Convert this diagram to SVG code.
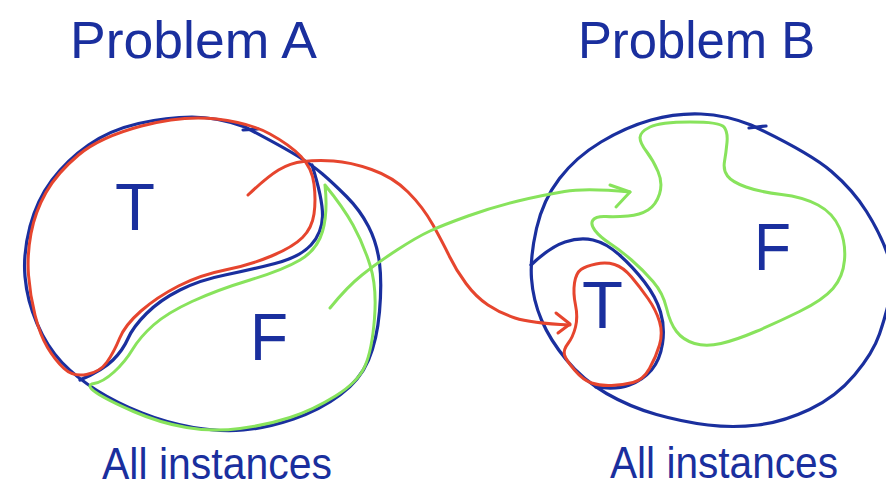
<svg xmlns="http://www.w3.org/2000/svg" width="886" height="492" viewBox="0 0 886 492">
<style>
.b{fill:none;stroke:#1a2f9e;stroke-width:3.2;stroke-linecap:round;stroke-linejoin:round}
.r{fill:none;stroke:#e6452e;stroke-width:3;stroke-linecap:round;stroke-linejoin:round}
.g{fill:none;stroke:#88e35c;stroke-width:3;stroke-linecap:round;stroke-linejoin:round}
.t{font-family:"Liberation Sans","DejaVu Sans",sans-serif;fill:#1a2f9e}
</style>
<rect width="886" height="492" fill="#ffffff"/>
<g id="problemA">
<text class="t" x="70" y="58" font-size="52" textLength="247" lengthAdjust="spacingAndGlyphs">Problem A</text>
<path class="b" d="M245,127 Q283,147 297.5,156 Q312,165 322.5,174 Q333,183 346.5,196.5 Q360,210 368.5,226.5 Q377,243 379.5,263 Q382,283 379.5,311.5 Q377,340 368.5,360 Q360,380 340,395 Q320,410 293.5,419 Q267,428 243.5,430 Q220,432 193.5,427.5 Q167,423 142,413 Q117,403 97,390.5 Q77,378 62,362.5 Q47,347 37,323.5 Q27,300 25,276.5 Q23,253 30,226.5 Q37,200 52,180 Q67,160 88.5,145 Q110,130 138.5,123.5 Q167,117 192,117 Q217,117 245,127"/>
<path class="b" d="M243,130 L258,129"/>
<path class="b" d="M312,165 Q323,200 322.5,216.5 Q322,233 311,245 Q300,257 275,263.5 Q250,270 225,275 Q200,280 180,290 Q160,300 146.5,313.5 Q133,327 128,338.5 Q123,350 113,360 Q103,370 80,380"/>
<path class="r" d="M64,368.5 Q55,360 47.5,347.5 Q40,335 35,315 Q30,295 28.5,275 Q27,255 31,233.5 Q35,212 46,192.5 Q57,173 78.5,155 Q100,137 141.5,126 Q183,115 216.5,119 Q250,123 270,134 Q290,145 301,156.5 Q312,168 314,184 Q316,200 314,214 Q312,228 302.5,237.5 Q293,247 271.5,256 Q250,265 225,270 Q200,275 178.5,286 Q157,297 141,311 Q125,325 119.5,338.5 Q114,352 107,362 Q100,372 86.5,374.5 Q73,377 64,368.5 Z"/>
<path class="g" d="M325,185 Q343,207 353,225 Q363,243 370,265 Q377,287 374.5,318.5 Q372,350 365,366 Q358,382 335.5,396 Q313,410 290,417.5 Q267,425 240,428.5 Q213,432 186.5,427.5 Q160,423 133.5,411.5 Q107,400 96,392.5 Q85,385 94,383.5 Q103,382 114,372 Q125,362 132.5,349.5 Q140,337 153.5,325 Q167,313 192,301.5 Q217,290 250,280 Q283,270 300,260 Q317,250 322.5,231.5 Q328,213 325,185"/>
<text class="t" x="115" y="230" font-size="66" textLength="40" lengthAdjust="spacingAndGlyphs">T</text>
<text class="t" x="250" y="360" font-size="66" textLength="38" lengthAdjust="spacingAndGlyphs">F</text>
<text class="t" x="102" y="479" font-size="44" textLength="230" lengthAdjust="spacingAndGlyphs">All instances</text>
</g>
<g id="problemB">
<text class="t" x="578" y="58" font-size="52" textLength="237" lengthAdjust="spacingAndGlyphs">Problem B</text>
<path class="b" d="M751,125 Q810,153 831.5,171.5 Q853,190 866.5,211.5 Q880,233 887.5,254 Q895,275 890.5,295 Q886,315 879.5,334 Q873,353 854.5,375 Q836,397 809.5,409.5 Q783,422 758,425 Q733,428 708,425 Q683,422 656.5,414.5 Q630,407 606.5,393.5 Q583,380 566.5,360 Q550,340 541.5,320 Q533,300 531.5,278.5 Q530,257 536.5,228.5 Q543,200 559.5,178.5 Q576,157 601,142 Q626,127 651,120 Q676,113 701,114 Q726,115 751,125"/>
<path class="b" d="M749,128 L766,126"/>
<path class="b" d="M531,265 Q550,247 565,242 Q580,237 593,240 Q606,243 619.5,255 Q633,267 644.5,282 Q656,297 660.5,312 Q665,327 662.5,343.5 Q660,360 651.5,370 Q643,380 629.5,385 Q616,390 596,387"/>
<path class="r" d="M581,269.5 Q586,266 596,264 Q606,262 614.5,264.5 Q623,267 631.5,277 Q640,287 648,298.5 Q656,310 659.5,321.5 Q663,333 659.5,345 Q656,357 649.5,368.5 Q643,380 633,382.5 Q623,385 611.5,385.5 Q600,386 591.5,383 Q583,380 574.5,370 Q566,360 564.5,355 Q563,350 568,343.5 Q573,337 575.5,327 Q578,317 575.5,305 Q573,293 574.5,283 Q576,273 581,269.5 Z"/>
<path class="g" d="M650,127 Q660,122 690,122 Q720,122 724,127 Q728,132 727,142.5 Q726,153 724.5,161.5 Q723,170 727.5,176 Q732,182 746,187 Q760,192 781.5,194.5 Q803,197 818,205 Q833,213 839.5,228 Q846,243 844.5,260 Q843,277 833,288.5 Q823,300 799.5,311.5 Q776,323 756,331.5 Q736,340 721,343.5 Q706,347 694.5,343.5 Q683,340 676.5,331.5 Q670,323 666.5,308 Q663,293 653,281.5 Q643,270 631.5,260 Q620,250 610,243.5 Q600,237 595,230.5 Q590,224 593,220 Q596,216 606,216.5 Q616,217 628,216 Q640,215 648,210 Q656,205 659.5,194 Q663,183 658,171.5 Q653,160 646.5,151.5 Q640,143 640,137.5 Q640,132 650,127 Z"/>
<text class="t" x="582" y="328" font-size="66" textLength="41" lengthAdjust="spacingAndGlyphs">T</text>
<text class="t" x="754" y="270" font-size="66" textLength="37" lengthAdjust="spacingAndGlyphs">F</text>
<text class="t" x="610" y="478" font-size="44" textLength="228" lengthAdjust="spacingAndGlyphs">All instances</text>
</g>
<g id="connectors">
<path class="r" d="M248,195 Q267,177 278.5,170 Q290,163 303.5,161.5 Q317,160 333.5,161 Q350,162 371.5,169.5 Q393,177 408,192 Q423,207 433,225 Q443,243 449.5,256.5 Q456,270 466,283.5 Q476,297 488,305 Q500,313 515,318 Q530,323 570,325"/>
<path class="r" d="M556,313 L570,324 L558,333"/>
<path class="g" d="M330,308 Q347,287 362,275 Q377,263 397,250 Q417,237 430,231 Q443,225 468,216 Q493,207 518,201 Q543,195 564.5,191.5 Q586,188 630,192"/>
<path class="g" d="M610,185 L630,192 L616,207"/>
</g>
</svg>
